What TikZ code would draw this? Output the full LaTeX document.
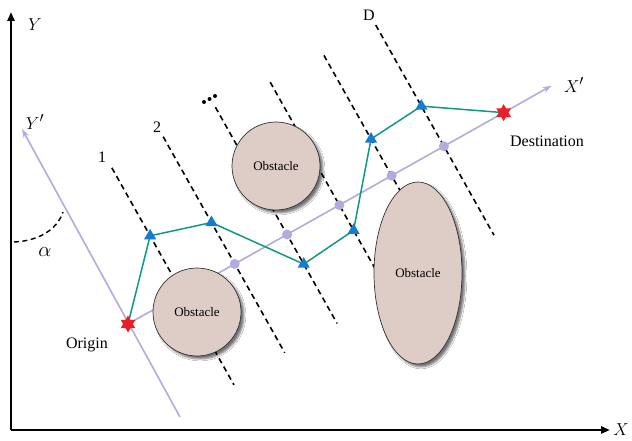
\documentclass[tikz,border=0pt]{standalone}
\usepackage{fontspec}
\setmainfont{Liberation Serif}
\usetikzlibrary{calc,shapes.geometric,shadows.blur,arrows.meta}
\definecolor{lav}{RGB}{178,172,222}
\definecolor{obst}{RGB}{221,205,198}
\definecolor{pathc}{RGB}{16,152,132}
\definecolor{tric}{RGB}{20,125,210}
\definecolor{starred}{RGB}{232,30,40}
\begin{document}
\begin{tikzpicture}[x=1pt,y=-1pt,
  axis/.style={line width=2.4pt, -{Triangle[length=9pt,width=7pt]}},
  laxis/.style={lav, line width=1.6pt, -{Stealth[length=9pt,width=6pt]}},
  gridline/.style={dash pattern=on 5.5pt off 4pt, line width=1.6pt},
  obstacle/.style={draw=black!80, line width=0.7pt, fill=obst, inner sep=0pt,
     font=\fontsize{13}{14}\selectfont,
     blur shadow={shadow xshift=3pt, shadow yshift=-3pt, shadow blur steps=6, shadow opacity=55}},
  tri/.style={regular polygon, regular polygon sides=3, fill=tric, minimum size=14pt, inner sep=0pt},
  waypt/.style={circle, fill=lav, minimum size=10pt, inner sep=0pt},
  endstar/.style={star, star points=6, star point ratio=1.75, fill=starred, minimum size=17pt, inner sep=0pt},
  lbl/.style={font=\fontsize{16}{18}\selectfont, inner sep=0pt},
  axlbl/.style={font=\fontsize{19}{20}\selectfont, inner sep=0pt},
  route/.style={pathc, line width=1.5pt, line join=round}
]
\useasboundingbox (0,0) rectangle (632,441);
\fill[white] (0,0) rectangle (632,441);

% origin of rotated frame
\coordinate (O) at (128,324);

% dashed grid lines
\foreach \i/\t/\b in {1/144/105, 2/146/102, 3/146/102, 4/141/102, 5/138/102, 6/139/102} {
  \coordinate (P\i) at ($(O)+({(60*\i+2.5)*0.8715},{-(60*\i+2.5)*0.4904})$);
  \coordinate (top\i) at ($(P\i)+({-\t*0.4904},{-\t*0.8715})$);
  \coordinate (bot\i) at ($(P\i)+({\b*0.4904},{\b*0.8715})$);
  \draw[gridline] (top\i) -- (bot\i);
}

% main axes
\coordinate (C) at (11,430);
\coordinate (Ytip) at (11,12);
\coordinate (Xtip) at (610,430);
\draw[axis] (C) -- (Ytip);
\draw[axis] (C) -- (Xtip);
\node[axlbl] (Ylab) at (35,25) {$Y$};
\node[axlbl] (Xlab) at (621,430) {$X$};

% rotated axes
\coordinate (Ypbot) at (180,417);
\coordinate (Yptip) at (22,129);
\coordinate (Xptip) at ($(O)+({486*0.8715},{-486*0.4904})$);
\draw[laxis] (Ypbot) -- (Yptip);
\draw[laxis] (O) -- (Xptip);
\node[axlbl] (Yplab) at (35,122) {$Y'$};
\node[axlbl] (Xplab) at (574,85) {$X'$};

% angle alpha
\draw[dash pattern=on 5pt off 3.5pt, line width=1.4pt] (14,242) .. controls (38,241) and (57,230) .. (63,212);
\node[axlbl, font=\fontsize{22}{22}\selectfont] (alab) at (45,252) {$\alpha$};

% waypoints on X'
\foreach \i in {2,...,6} {\node[waypt] (W\i) at (P\i) {};}

% route coordinates
\coordinate (cT1) at ($(P1)!66pt!(top1)$);
\coordinate (cT2) at ($(P2)!47.5pt!(top2)$);
\coordinate (cT3) at ($(P3)!34pt!(bot3)$);
\coordinate (cT4) at ($(P4)!29pt!(bot4)$);
\coordinate (cT5) at ($(P5)!42pt!(top5)$);
\coordinate (cT6) at ($(P6)!46pt!(top6)$);
\coordinate (Dst) at ($(O)+({431*0.8715},{-431*0.4904})$);
\draw[route] (O) -- (cT1) -- (cT2) -- (cT3) -- (cT4) -- (cT5) -- (cT6) -- (Dst);

% obstacles
\node[obstacle, circle, minimum size=88pt] (ob1) at (197,312) {Obstacle};
\node[obstacle, circle, minimum size=88pt] (ob2) at (276,166) {Obstacle};
\node[obstacle, ellipse, minimum width=88pt, minimum height=182pt] (ob3) at (418,273) {Obstacle};

% triangles
\foreach \i in {1,...,6} {\node[tri] (T\i) at (cT\i) {};}

% stars
\node[endstar] (Ostar) at (O) {};
\node[endstar] (Dstar) at (Dst) {};

% labels
\node[lbl] (orig) at (87,345) {Origin};
\node[lbl] (dest) at (547,141) {Destination};
\node[lbl] (l1) at (102,157) {1};
\node[lbl] (l2) at (157,127) {2};
\node[lbl] (lD) at (369,15) {D};
% ellipsis marker above line 3
\foreach \px/\py in {204/102, 209.5/99, 215/96} {\fill (\px,\py) circle (2pt);}
\end{tikzpicture}
\end{document}
